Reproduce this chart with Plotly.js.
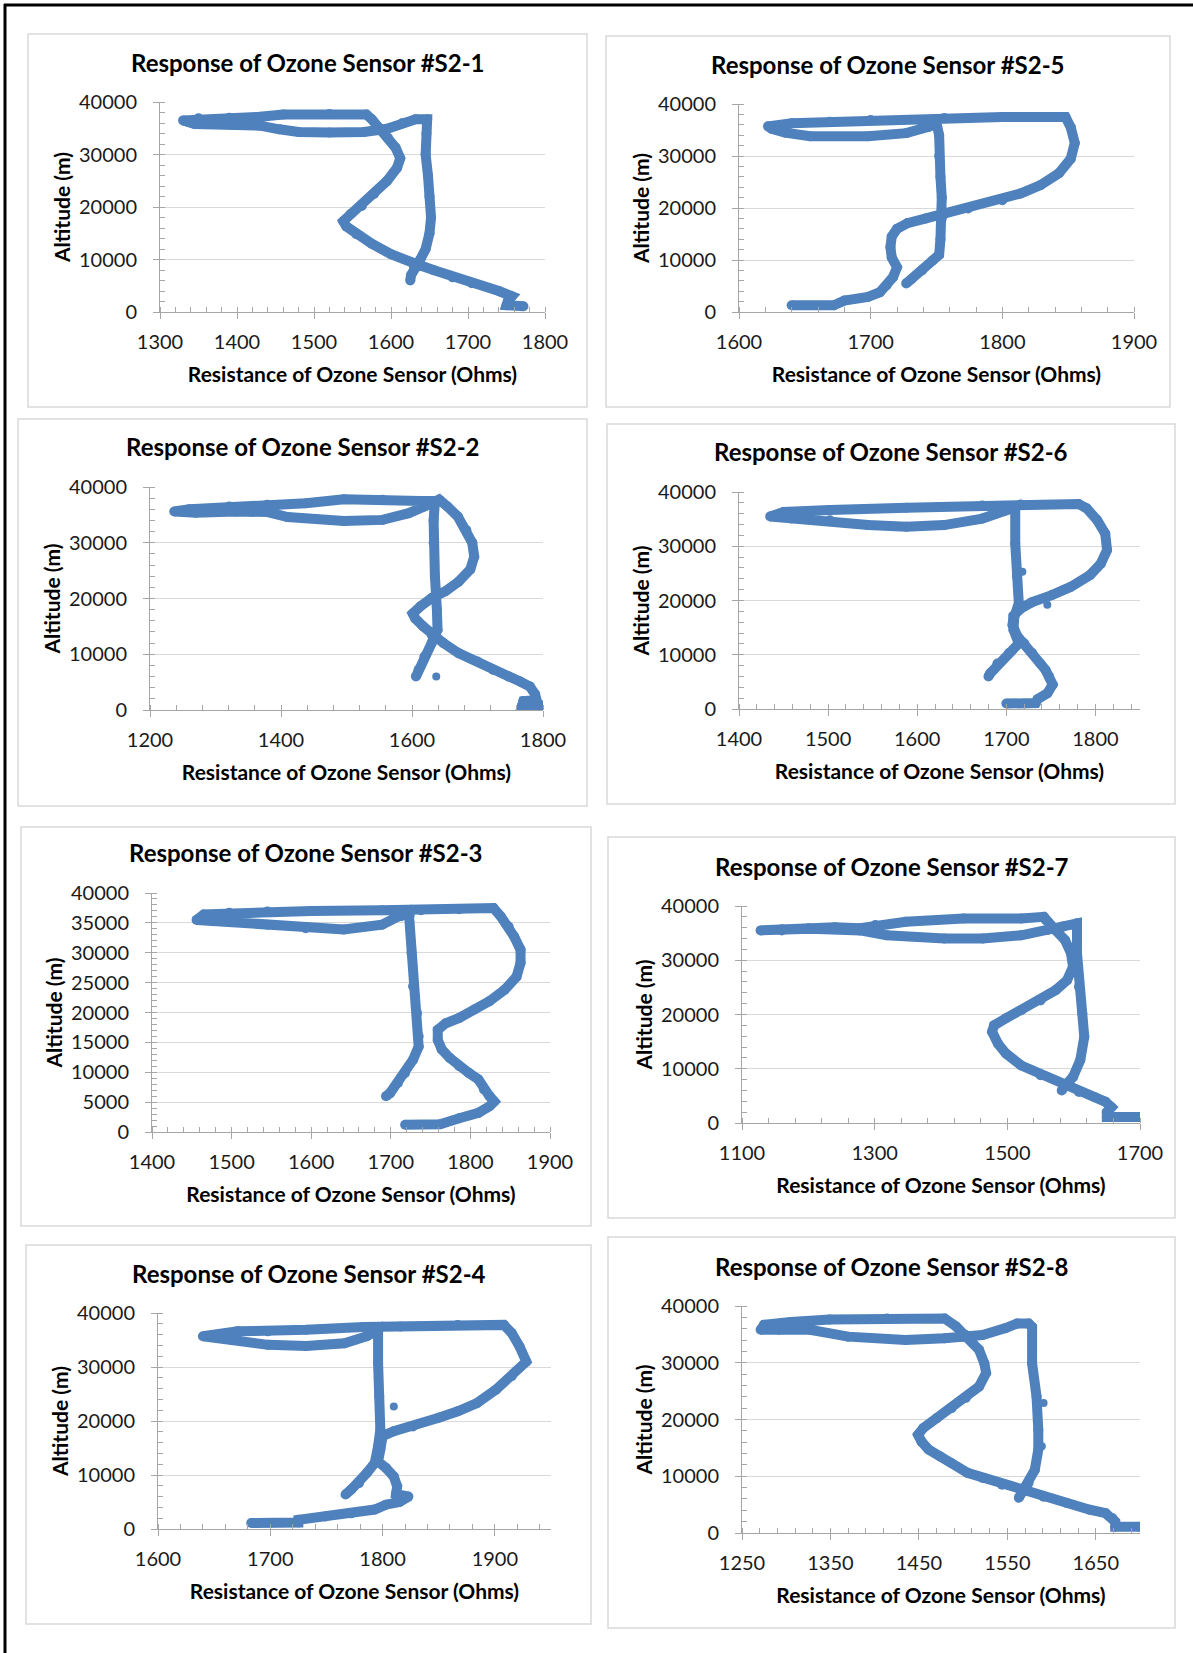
<!DOCTYPE html>
<html>
<head>
<meta charset="utf-8">
<script src="https://cdn.plot.ly/plotly-3.0.1.min.js"></script>
<style>
  html, body { margin: 0; padding: 0; background: #ffffff; }
  #chart { width: 1193px; height: 1653px; }
</style>
</head>
<body>
<div id="chart"></div>
<script>
// ---- Flight data: sensor resistance (Ohms) vs altitude (m), traced in flight order ----

const s21Res = [1772,1750,1752,1757,1740,1705,1680,1655,1632,1600,1575,1555,1542,1538,1548,1562,1578,1595,1608,1612,1606,1596,1585,1575,1568,1520,1460,1430,1390,1350,1330,1345,1390,1430,1455,1480,1520,1565,1595,1615,1632,1647,1646,1645,1648,1650,1652,1650,1645,1638,1630,1626,1625];
const s21Alt = [1100,1300,2200,3000,4000,5500,6600,8000,9200,11000,13000,14800,16300,17300,18700,20200,22500,25000,27500,29300,31300,33200,35000,36700,37600,37700,37600,37200,37000,36900,36500,35800,35700,35500,34800,34300,34200,34300,34900,36000,36700,36700,34000,30000,26000,22000,18000,15000,12000,10000,8500,7000,6000];

const s25Res = [1640,1672,1680,1698,1707,1712,1717,1720,1716,1715,1716,1720,1728,1742,1756,1774,1800,1814,1829,1843,1852,1855,1852,1848,1800,1756,1700,1669,1640,1622,1625,1635,1654,1698,1727,1744,1750,1752,1752,1753,1754,1754,1753,1752,1747,1739,1731,1727];
const s25Alt = [1300,1300,2200,2900,3800,5100,6700,8600,10500,12500,14500,16000,17100,18000,18900,19900,21500,22800,24400,26700,29500,32500,35500,37500,37500,37300,36900,36600,36300,35700,35200,34500,33800,33800,34400,35600,36300,34000,30000,26000,22000,18000,14000,11000,9900,8000,6300,5500];

const s22Res = [1800,1768,1770,1790,1788,1780,1765,1747,1724,1700,1671,1648,1630,1617,1605,1601,1613,1630,1651,1671,1689,1695,1692,1683,1670,1654,1642,1613,1555,1496,1438,1379,1321,1260,1237,1270,1330,1380,1410,1496,1555,1595,1619,1635,1633,1633,1635,1638,1639,1630,1619,1610,1606];
const s22Alt = [800,800,1600,1800,2800,4200,5100,6000,7200,8700,10200,12000,13500,15000,16400,17300,18600,20100,21300,23000,25200,27500,30000,32300,34700,36500,37700,37500,37700,37800,37100,36800,36500,36000,35600,35400,35600,35500,34600,33900,34100,35300,36500,37400,34000,30000,24000,18000,14400,12000,9600,7200,6000];
const s22OddRes = [1637];
const s22OddAlt = [6000];

const s26Res = [1700,1733,1735,1746,1752,1748,1744,1738,1729,1720,1712,1707,1708,1716,1729,1751,1772,1794,1806,1813,1811,1802,1790,1781,1716,1673,1588,1502,1450,1435,1459,1502,1545,1588,1630,1673,1699,1710,1710,1712,1714,1709,1708,1714,1703,1690,1682,1680];
const s26Alt = [1000,1100,1800,2900,4500,6000,7200,8400,10300,12100,13500,15500,17200,18500,19700,21000,22500,24700,26800,29300,32300,34800,37000,37800,37700,37500,37100,36700,36300,35500,35100,34800,33900,33600,33900,35100,36600,37200,30500,24400,19500,17000,14600,12100,10300,8400,6600,6000];
const s26OddRes = [1718,1746];
const s26OddAlt = [25300,19200];

const s23Res = [1718,1762,1786,1810,1824,1830,1824,1817,1810,1798,1786,1774,1764,1759,1759,1769,1786,1805,1824,1843,1858,1863,1863,1855,1848,1838,1829,1786,1738,1689,1600,1545,1497,1465,1456,1478,1545,1593,1641,1689,1713,1726,1723,1726,1728,1733,1735,1735,1728,1718,1709,1699,1694];
const s23Alt = [1200,1300,2300,3200,4300,5100,6000,7100,8800,9900,11000,12400,13800,15400,17100,18200,19100,20500,21900,23800,26000,28300,30500,32700,34400,36100,37500,37300,37100,37100,37000,36900,36700,36400,35500,35300,34700,34100,33900,34700,36100,37200,36100,30000,24400,19900,16000,14300,12100,9900,8200,6500,6000];

const s27Res = [1700,1650,1650,1657,1648,1631,1608,1584,1550,1521,1498,1486,1477,1480,1498,1521,1550,1573,1590,1599,1596,1587,1573,1558,1555,1521,1434,1347,1301,1278,1240,1200,1160,1128,1160,1203,1278,1318,1405,1463,1521,1561,1584,1605,1605,1608,1613,1616,1610,1599,1587,1582];
const s27Alt = [1100,1100,2000,2900,3900,4800,5700,6900,8800,10600,12800,14600,16800,18000,19300,20800,22600,24500,26300,28800,31300,33700,35500,37400,38000,37700,37700,37100,36500,35900,36100,35900,35700,35500,35500,35800,35500,34600,34000,34000,34600,35600,36200,36800,31300,25100,20200,15900,11600,8500,6900,6000];

const s24Res = [1683,1725,1725,1749,1772,1793,1803,1815,1823,1812,1813,1810,1803,1796,1798,1800,1810,1827,1850,1867,1884,1901,1915,1928,1922,1915,1908,1867,1816,1783,1732,1698,1671,1640,1664,1698,1732,1766,1786,1796,1796,1797,1798,1796,1793,1786,1779,1772,1767];
const s24Alt = [1100,1200,1700,2300,2900,3600,4500,5000,6000,6500,7900,9700,11300,12500,14700,17200,18100,19000,20600,21800,23300,25800,28300,31000,33800,36300,37800,37800,37500,37400,36900,36600,36600,35700,35100,34100,33900,34400,35700,36900,30700,24600,18400,15300,12200,10400,8500,7300,6400];
const s24OddRes = [1810];
const s24OddAlt = [22700];

const s28Res = [1700,1672,1672,1669,1661,1643,1617,1591,1565,1544,1522,1505,1487,1474,1461,1453,1449,1455,1470,1487,1503,1518,1526,1524,1518,1511,1503,1492,1479,1414,1349,1305,1275,1271,1292,1327,1370,1435,1479,1500,1522,1548,1561,1574,1578,1578,1583,1585,1585,1581,1574,1566,1563];
const s28Alt = [1100,1100,2000,2600,3500,4100,5300,6400,7600,8500,9700,10600,12300,13500,14700,16100,17300,18500,20200,22000,23800,25800,28200,29900,32300,33400,34900,36400,37800,37800,37600,37200,36700,35800,35800,35800,34600,34000,34300,34600,34900,36100,36900,36900,36300,29900,24100,18200,14700,11100,8800,7000,6200];
const s28OddRes = [1591,1589];
const s28OddAlt = [22900,15300];

const sensorNames = ['#S2-1','#S2-5','#S2-2','#S2-6','#S2-3','#S2-7','#S2-4','#S2-8'];
const xTitle = 'Resistance of Ozone Sensor (Ohms)';
const yTitle = 'Altitude (m)';

// ---- Page geometry (pixels) ----
const W = 1193, H = 1653;
const BLUE = '#4F81BD';
const FONT = 'Lato, "Open Sans", sans-serif';
const AXIS_GREY = '#A6A6A6';

// plot rect [left, right, top, bottom], frame rect, axis scale
const panels = [
  {res: s21Res, alt: s21Alt, plot: [160, 545, 102, 312], frame: [28, 587, 34, 407], xr: [1300, 1800], dx: 100, mx: 20, dy: 10000, my: 2000},
  {res: s25Res, alt: s25Alt, plot: [739, 1134, 104, 312], frame: [606, 1170, 36, 407], xr: [1600, 1900], dx: 100, mx: 20, dy: 10000, my: 2000},
  {res: s22Res, alt: s22Alt, oddRes: s22OddRes, oddAlt: s22OddAlt, plot: [150, 543, 487, 710], frame: [18, 587, 419, 806], xr: [1200, 1800], dx: 200, mx: 40, dy: 10000, my: 2000},
  {res: s26Res, alt: s26Alt, oddRes: s26OddRes, oddAlt: s26OddAlt, plot: [739, 1140, 492, 709], frame: [607, 1175, 424, 804], xr: [1400, 1850], dx: 100, mx: 20, dy: 10000, my: 2000},
  {res: s23Res, alt: s23Alt, plot: [152, 550, 893, 1132], frame: [21, 591, 827, 1226], xr: [1400, 1900], dx: 100, mx: 20, dy: 5000, my: 1000},
  {res: s27Res, alt: s27Alt, plot: [742, 1140, 906, 1123], frame: [608, 1175, 837, 1218], xr: [1100, 1700], dx: 200, mx: 40, dy: 10000, my: 2000},
  {res: s24Res, alt: s24Alt, oddRes: s24OddRes, oddAlt: s24OddAlt, plot: [158, 551, 1313, 1529], frame: [26, 591, 1245, 1624], xr: [1600, 1950], dx: 100, mx: 20, dy: 10000, my: 2000},
  {res: s28Res, alt: s28Alt, oddRes: s28OddRes, oddAlt: s28OddAlt, plot: [742, 1140, 1306, 1533], frame: [608, 1175, 1237, 1628], xr: [1250, 1700], dx: 100, mx: 20, dy: 10000, my: 2000}
];

const px = x => x / W;
const py = y => 1 - y / H;

const traces = [];
const layout = {
  width: W, height: H,
  margin: {l: 0, r: 0, t: 0, b: 0},
  paper_bgcolor: '#ffffff',
  plot_bgcolor: '#ffffff',
  showlegend: false,
  font: {family: FONT, color: '#1a1a1a'},
  shapes: [],
  annotations: []
};

// outer page rule: top and left edges
layout.shapes.push({type: 'line', xref: 'paper', yref: 'paper', x0: px(4), x1: px(W), y0: py(5), y1: py(5), line: {color: '#000000', width: 3}});
layout.shapes.push({type: 'line', xref: 'paper', yref: 'paper', x0: px(5), x1: px(5), y0: py(4), y1: py(H), line: {color: '#000000', width: 3}});

panels.forEach((p, i) => {
  const n = i + 1;
  const xa = n === 1 ? 'x' : 'x' + n;
  const ya = n === 1 ? 'y' : 'y' + n;
  const [L, R, T, B] = p.plot;
  const [fL, fR, fT, fB] = p.frame;

  traces.push({
    type: 'scatter', mode: 'lines+markers',
    x: p.res, y: p.alt, xaxis: xa, yaxis: ya,
    line: {color: BLUE, width: 10},
    marker: {color: BLUE, size: 10},
    hoverinfo: 'x+y'
  });
  if (p.oddRes) {
    traces.push({
      type: 'scatter', mode: 'markers',
      x: p.oddRes, y: p.oddAlt, xaxis: xa, yaxis: ya,
      marker: {color: BLUE, size: 8},
      hoverinfo: 'x+y'
    });
  }

  layout['xaxis' + (n === 1 ? '' : n)] = {
    domain: [px(L), px(R)],
    anchor: ya,
    range: p.xr,
    tick0: p.xr[0], dtick: p.dx,
    tickformat: 'd',
    showgrid: false, zeroline: false,
    showline: true, linecolor: AXIS_GREY, linewidth: 1,
    ticks: 'outside', ticklen: 6, tickcolor: AXIS_GREY,
    minor: {ticks: 'inside', ticklen: 5, dtick: p.mx, tick0: p.xr[0], tickcolor: AXIS_GREY, showgrid: false},
    ticklabelstandoff: 6,
    tickfont: {family: FONT, size: 20, color: '#1a1a1a'},
    title: {text: xTitle, font: {family: FONT, size: 21, color: '#000000', weight: 'bold'}, standoff: 15},
    fixedrange: true
  };
  layout['yaxis' + (n === 1 ? '' : n)] = {
    domain: [py(B), py(T)],
    anchor: xa,
    range: [0, 40000],
    tick0: 0, dtick: p.dy,
    tickformat: 'd',
    showgrid: true, gridcolor: '#D9D9D9', gridwidth: 1,
    zeroline: false,
    showline: true, linecolor: AXIS_GREY, linewidth: 1,
    ticks: 'outside', ticklen: 6, tickcolor: AXIS_GREY,
    minor: {ticks: 'inside', ticklen: 5, dtick: p.my, tickcolor: AXIS_GREY, showgrid: false},
    ticklabelstandoff: 12,
    tickfont: {family: FONT, size: 20, color: '#1a1a1a'},
    title: {text: yTitle, font: {family: FONT, size: 21, color: '#000000', weight: 'bold'}, standoff: 2},
    fixedrange: true
  };

  // light frame around each chart
  layout.shapes.push({type: 'rect', xref: 'paper', yref: 'paper', layer: 'below',
    x0: px(fL), x1: px(fR), y0: py(fB), y1: py(fT),
    line: {color: '#D9D9D9', width: 1.5}, fillcolor: '#ffffff'});

  // chart heading
  layout.annotations.push({
    xref: 'paper', yref: 'paper',
    x: px((fL + fR) / 2), y: py(T - 40),
    xanchor: 'center', yanchor: 'middle',
    text: 'Response of Ozone Sensor ' + sensorNames[i],
    showarrow: false,
    font: {family: FONT, size: 24, color: '#000000', weight: 'bold'}
  });
});

Plotly.newPlot('chart', traces, layout, {staticPlot: true, displayModeBar: false});
</script>
</body>
</html>
